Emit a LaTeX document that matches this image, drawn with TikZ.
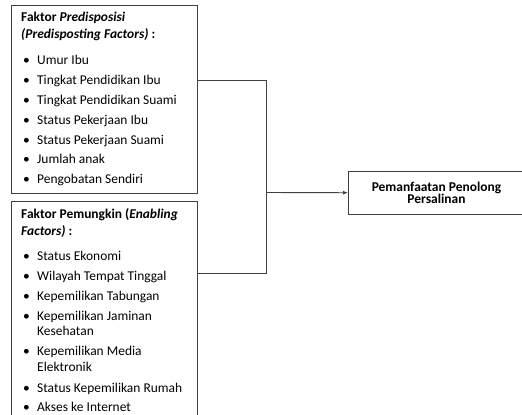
\documentclass[tikz,border=0pt]{standalone}
\usepackage{fontspec}
\setmainfont{Carlito}
\usetikzlibrary{arrows.meta}
\definecolor{linegray}{HTML}{404040}
\tikzset{
  factorbox/.style={draw=linegray, line width=0.9bp, anchor=north west, inner sep=0pt},
  headline/.style={anchor=west, inner sep=0pt, font=\fontsize{13.5}{15}\selectfont\bfseries},
  itemline/.style={anchor=west, inner sep=0pt, font=\fontsize{13.5}{15}\selectfont, text height=9bp, text depth=3bp},
  link/.style={draw=linegray, line width=0.9bp}
}
\begin{document}
\begin{tikzpicture}[x=1bp,y=-1bp]
\useasboundingbox (0,0) rectangle (522,414);
% boxes
\node[factorbox, minimum width=186bp, minimum height=188bp] (predis) at (11,5) {};
\node[factorbox, minimum width=186bp, minimum height=216bp] (enab) at (11,201) {};
\node[factorbox, minimum width=176bp, minimum height=43bp, align=center,
      font=\fontsize{13.5}{12}\selectfont\bfseries] (target) at (348,171)
      {Pemanfaatan Penolong\\Persalinan};
% predisposing factors
\node[headline] (predisA) at (21,18) {Faktor \textit{Predisposisi}};
\node[headline] (predisB) at (21,35) {\textit{(Predisposting Factors)} :};
\foreach \t [count=\i] in {Umur Ibu, Tingkat Pendidikan Ibu, Tingkat Pendidikan Suami,
    Status Pekerjaan Ibu, Status Pekerjaan Suami, Jumlah anak, Pengobatan Sendiri}
{
  \node[itemline] (pb\i) at (23,42+\i*19.8) {\textbullet};
  \node[itemline] (pi\i) at (37,42+\i*19.8) {\t};
}
% enabling factors
\node[headline] (enabA) at (21,215) {Faktor Pemungkin (\textit{Enabling}};
\node[headline] (enabB) at (21,232) {\textit{Factors)} :};
\foreach \y/\t [count=\i] in {257/Status Ekonomi, 277/Wilayah Tempat Tinggal,
    297/Kepemilikan Tabungan, 317/Kepemilikan Jaminan, 352/Kepemilikan Media,
    389/Status Kepemilikan Rumah, 408/Akses ke Internet}
{
  \node[itemline] (eb\i) at (23,\y) {\textbullet};
  \node[itemline] (ei\i) at (37,\y) {\t};
}
\node[itemline] (ei4b) at (37,332) {Kesehatan};
\node[itemline] (ei5b) at (37,368) {Elektronik};
% connectors
\coordinate (top) at (266,80);
\coordinate (bot) at (266,273);
\coordinate (mid) at (266,192.5);
\draw[link] (predis.east |- top) -- (top) -- (bot) -- (enab.east |- bot);
\draw[link, -{Latex[length=5bp,width=4bp]}] (mid) -- (target);
\end{tikzpicture}
\end{document}
